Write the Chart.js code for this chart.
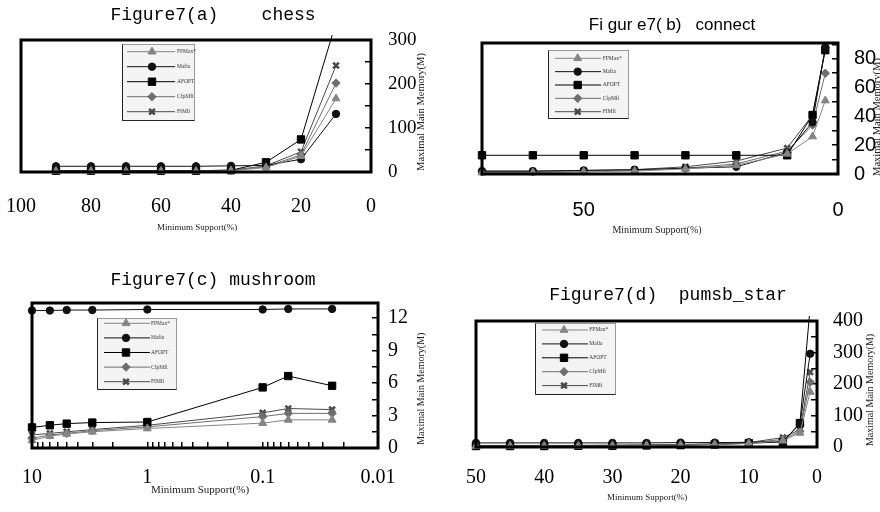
<!DOCTYPE html>
<html>
<head>
<meta charset="utf-8">
<script src="https://cdn.jsdelivr.net/npm/chart.js@4.4.1/dist/chart.umd.min.js"></script>
<style>
  html, body { margin: 0; padding: 0; background: #fff; }
  #wrap { position: relative; width: 880px; height: 512px; }
  #wrap canvas { position: absolute; }
</style>
</head>
<body>
<div id="wrap">
  <canvas id="chess" width="440" height="256" style="left:0;top:0"></canvas>
  <canvas id="connect" width="440" height="256" style="left:440px;top:0"></canvas>
  <canvas id="mushroom" width="440" height="256" style="left:0;top:256px"></canvas>
  <canvas id="pumsb" width="440" height="256" style="left:440px;top:256px"></canvas>
</div>
<script>
const seriesNames = ['FPMax*', 'Mafia', 'AFOPT', 'CfpMfi', 'FIMfi'];

// Figure7(a) chess
const chessSupport = [90, 80, 70, 60, 50, 40, 30, 20, 10];
const chessFPMax  = [2, 2, 2, 2, 2, 3, 10, 36, 167];
const chessMafia  = [13, 13, 13, 13, 13, 14, 15, 29, 132];
const chessAFOPT  = [3, 3, 3, 3, 3, 4, 22, 74, 340];
const chessCfpMfi = [3, 3, 3, 3, 3, 4, 12, 39, 202];
const chessFIMfi  = [3, 3, 3, 3, 3, 4, 14, 46, 242];
const chessXLabels = [100, 80, 60, 40, 20, 0];
const chessYLabels = [0, 100, 200, 300];

// Figure7(b) connect
const connectSupport = [70, 60, 50, 40, 30, 20, 10, 5, 2.5];
const connectFPMax  = [1, 1, 1.5, 2, 3.5, 6, 14, 26, 51];
const connectMafia  = [2, 2, 2.5, 3, 4, 5, 15, 36, 88];
const connectAFOPT  = [13, 13, 13, 13, 13, 13, 13, 41, 86];
const connectCfpMfi = [1.5, 1.5, 2, 2.5, 4, 7, 16, 34, 70];
const connectFIMfi  = [2, 2, 2.5, 3, 5, 9, 18, 41, 87];
const connectXLabels = [50, 0];
const connectYLabels = [0, 20, 40, 60, 80];

// Figure7(c) mushroom
const mushroomSupport = [10, 7, 5, 3, 1, 0.1, 0.06, 0.025];
const mushroomFPMax  = [0.7, 1.1, 1.3, 1.5, 1.8, 2.3, 2.6, 2.6];
const mushroomMafia  = [12.7, 12.7, 12.75, 12.75, 12.8, 12.8, 12.85, 12.85];
const mushroomAFOPT  = [1.9, 2.1, 2.25, 2.35, 2.4, 5.6, 6.65, 5.75];
const mushroomCfpMfi = [0.9, 1.2, 1.35, 1.6, 1.95, 2.9, 3.2, 3.2];
const mushroomFIMfi  = [1.2, 1.35, 1.5, 1.7, 2.1, 3.25, 3.65, 3.55];
const mushroomXLabels = [10, 1, 0.1, 0.01];
const mushroomYLabels = [0, 3, 6, 9, 12];

// Figure7(d) pumsb_star
const pumsbSupport = [50, 45, 40, 35, 30, 25, 20, 15, 10, 5, 2.5, 1];
const pumsbFPMax  = [3, 3, 3, 3, 4, 5, 6, 8, 11, 20, 45, 175];
const pumsbMafia  = [13, 13, 13, 13, 13, 13, 14, 14, 15, 18, 72, 296];
const pumsbAFOPT  = [3, 3, 3, 4, 4, 5, 6, 8, 12, 16, 76, 445];
const pumsbCfpMfi = [4, 4, 4, 5, 5, 6, 7, 9, 13, 24, 50, 206];
const pumsbFIMfi  = [5, 5, 5, 5, 6, 7, 8, 10, 14, 30, 55, 238];
const pumsbXLabels = [50, 40, 30, 20, 10, 0];
const pumsbYLabels = [0, 100, 200, 300, 400];

// look of each series (same order as seriesNames)
const seriesLook = [
  { color: '#858585', point: 'triangle', radius: 4.6, bw: 1 },
  { color: '#111111', point: 'circle', radius: 3.7, bw: 1 },
  { color: '#000000', point: 'rect', radius: 5.2, bw: 1 },
  { color: '#6e6e6e', point: 'rectRot', radius: 4.2, bw: 1 },
  { color: '#4a4a4a', point: 'crossRot', radius: 4, bw: 2.6 }
];

const SERIF = "'Liberation Serif', 'DejaVu Serif', serif";
const MONO = "'Liberation Mono', 'DejaVu Sans Mono', monospace";
const SANS = "'Liberation Sans', Arial, sans-serif";

function buildDatasets(support, seriesList) {
  return seriesList.map((vals, i) => {
    const s = seriesLook[i];
    return {
      label: seriesNames[i],
      data: support.map((x, j) => ({ x: x, y: vals[j] })),
      borderColor: s.color,
      backgroundColor: s.color,
      pointBackgroundColor: s.color,
      pointBorderColor: s.color,
      pointStyle: s.point,
      pointRadius: s.radius,
      pointBorderWidth: s.bw,
      borderWidth: 1,
      tension: 0,
      clip: 5
    };
  });
}

function labelIf(list) {
  return v => {
    const hit = list.find(l => Math.abs(l - v) < 1e-6 * (Math.abs(l) + 1e-9));
    return hit === undefined ? '' : String(hit);
  };
}

// frame, titles and the boxed legend inside the plot
function makeDecor(d) {
  return {
    id: 'decor',
    afterDraw(chart) {
      const ctx = chart.ctx, a = chart.chartArea;
      ctx.save();
      ctx.strokeStyle = '#000';
      ctx.lineWidth = 3;
      ctx.strokeRect(a.left, a.top, a.right - a.left, a.bottom - a.top);

      ctx.textAlign = 'center';
      ctx.textBaseline = 'middle';
      ctx.fillStyle = '#000';
      ctx.font = d.titleFont;
      ctx.fillText(d.title, d.titleX, d.titleY);

      ctx.fillStyle = '#222';
      ctx.font = d.xTitleFont;
      ctx.fillText('Minimum Support(%)', d.xTitleX, d.xTitleY);

      ctx.save();
      ctx.translate(d.yTitleX, d.yTitleY);
      ctx.rotate(-Math.PI / 2);
      ctx.font = d.yTitleFont;
      ctx.fillText('Maximal Main Memory(M)', 0, 0);
      ctx.restore();

      // legend box
      const L = d.legend;
      ctx.fillStyle = '#f4f4f4';
      ctx.fillRect(L.x, L.y, L.w, L.h);
      ctx.lineWidth = 1;
      ctx.strokeStyle = '#999';
      ctx.strokeRect(L.x + 0.5, L.y + 0.5, L.w, L.h);
      ctx.strokeStyle = '#222';
      ctx.beginPath();
      ctx.moveTo(L.x + 0.5, L.y + 0.5);
      ctx.lineTo(L.x + 0.5, L.y + L.h + 0.5);
      ctx.lineTo(L.x + L.w + 0.5, L.y + L.h + 0.5);
      ctx.stroke();

      ctx.textAlign = 'left';
      ctx.font = '5.5px ' + SERIF;
      chart.data.datasets.forEach((ds, i) => {
        const yy = L.row0 + i * L.dy;
        ctx.strokeStyle = ds.borderColor;
        ctx.lineWidth = 1;
        ctx.beginPath();
        ctx.moveTo(L.line0, yy);
        ctx.lineTo(L.line1, yy);
        ctx.stroke();
        ctx.fillStyle = ds.pointBackgroundColor;
        ctx.strokeStyle = ds.pointBorderColor;
        ctx.lineWidth = ds.pointBorderWidth;
        Chart.helpers.drawPoint(ctx, {
          pointStyle: ds.pointStyle, rotation: 0,
          radius: ds.pointRadius, borderWidth: ds.pointBorderWidth
        }, L.mark, yy);
        ctx.fillStyle = '#333';
        ctx.fillText(ds.label, L.text, yy);
      });
      ctx.restore();
    }
  };
}

function makePanel(id, cfg) {
  const W = 440, H = 256;
  const innerTicks = {
    display: true, drawOnChartArea: false, drawTicks: true,
    tickLength: -6, color: '#000', tickColor: '#000', lineWidth: 1.5, tickWidth: 1.5
  };
  const noTicks = { display: false, drawOnChartArea: false, drawTicks: false };
  const xScale = {
    type: cfg.xType || 'linear',
    position: 'bottom',
    min: cfg.xMin, max: cfg.xMax, reverse: true,
    grid: cfg.xInnerTicks ? innerTicks : noTicks,
    border: { display: false },
    ticks: {
      autoSkip: false, maxRotation: 0, color: '#000',
      font: { family: cfg.xFont, size: cfg.xSize },
      padding: cfg.xPad,
      callback: labelIf(cfg.xLabels)
    },
    afterFit: s => { s.height = H - cfg.area.bottom; s.paddingLeft = 0; s.paddingRight = 0; }
  };
  if (cfg.xStep) xScale.ticks.stepSize = cfg.xStep;
  if (cfg.xType === 'logarithmic') {
    // keep only the 1..9 x 10^n minor ticks
    xScale.afterBuildTicks = s => {
      s.ticks = s.ticks.filter(t => {
        const m = t.value / Math.pow(10, Math.floor(Math.log10(t.value) + 1e-9));
        return Math.abs(m - Math.round(m)) < 1e-6;
      });
    };
  }
  const yScale = {
    type: 'linear',
    position: 'right',
    min: 0, max: cfg.yMax,
    grid: innerTicks,
    border: { display: false },
    ticks: {
      autoSkip: false, color: '#000', stepSize: cfg.yStep, includeBounds: false,
      font: { family: cfg.yFont, size: cfg.ySize },
      padding: cfg.yPad,
      callback: labelIf(cfg.yLabels)
    },
    afterFit: s => { s.width = W - cfg.area.right; s.paddingTop = 0; s.paddingBottom = 0; }
  };

  return new Chart(document.getElementById(id), {
    type: 'line',
    data: { datasets: buildDatasets(cfg.support, cfg.series) },
    options: {
      responsive: false,
      animation: false,
      events: [],
      layout: { padding: { left: cfg.area.left, top: cfg.area.top, right: 0, bottom: 0 } },
      plugins: { legend: { display: false }, title: { display: false }, tooltip: { enabled: false } },
      scales: { x: xScale, y: yScale }
    },
    plugins: [makeDecor(cfg.decor)]
  });
}

makePanel('chess', {
  support: chessSupport,
  series: [chessFPMax, chessMafia, chessAFOPT, chessCfpMfi, chessFIMfi],
  area: { left: 21, top: 40, right: 371, bottom: 172 },
  xMin: 0, xMax: 100, xStep: 20, xLabels: chessXLabels, xFont: SERIF, xSize: 20, xPad: 23,
  yMax: 300, yStep: 50, yLabels: chessYLabels, yFont: SERIF, ySize: 19, yPad: 23,
  decor: {
    title: 'Figure7(a)    chess', titleFont: '18px ' + MONO, titleX: 213, titleY: 15,
    xTitleFont: '9px ' + SERIF, xTitleX: 197, xTitleY: 228,
    yTitleFont: '10.5px ' + SERIF, yTitleX: 421, yTitleY: 112,
    legend: { x: 122, y: 44, w: 72, h: 76, row0: 51.7, dy: 15, line0: 127, line1: 175, mark: 152, text: 177 }
  }
});

makePanel('connect', {
  support: connectSupport,
  series: [connectFPMax, connectMafia, connectAFOPT, connectCfpMfi, connectFIMfi],
  area: { left: 42, top: 43, right: 398, bottom: 174 },
  xMin: 0, xMax: 70, xStep: 10, xLabels: connectXLabels, xFont: SANS, xSize: 20, xPad: 24,
  yMax: 91, yStep: 10, yLabels: connectYLabels, yFont: SANS, ySize: 20, yPad: 22,
  decor: {
    title: 'Fi gur e7( b)   connect', titleFont: '17px ' + SANS, titleX: 232, titleY: 25,
    xTitleFont: '10px ' + SERIF, xTitleX: 217, xTitleY: 230,
    yTitleFont: '10.5px ' + SERIF, yTitleX: 437, yTitleY: 117,
    legend: { x: 108, y: 50, w: 80, h: 68, row0: 58.3, dy: 13.35, line0: 115, line1: 161, mark: 137.7, text: 162.7 }
  }
});

makePanel('mushroom', {
  support: mushroomSupport,
  series: [mushroomFPMax, mushroomMafia, mushroomAFOPT, mushroomCfpMfi, mushroomFIMfi],
  area: { left: 32, top: 47, right: 378, bottom: 192 },
  xType: 'logarithmic', xInnerTicks: true,
  xMin: 0.01, xMax: 10, xLabels: mushroomXLabels, xFont: SERIF, xSize: 20, xPad: 24,
  yMax: 13.4, yStep: 1.5, yLabels: mushroomYLabels, yFont: SERIF, ySize: 20, yPad: 16,
  decor: {
    title: 'Figure7(c) mushroom', titleFont: '18px ' + MONO, titleX: 213, titleY: 24.7,
    xTitleFont: '11px ' + SERIF, xTitleX: 200, xTitleY: 234,
    yTitleFont: '10px ' + SERIF, yTitleX: 421, yTitleY: 132.7,
    legend: { x: 97, y: 62, w: 79, h: 71, row0: 67.3, dy: 14.6, line0: 104, line1: 150, mark: 126, text: 151 }
  }
});

makePanel('pumsb', {
  support: pumsbSupport,
  series: [pumsbFPMax, pumsbMafia, pumsbAFOPT, pumsbCfpMfi, pumsbFIMfi],
  area: { left: 36, top: 65, right: 377, bottom: 191 },
  xMin: 0, xMax: 50, xStep: 10, xLabels: pumsbXLabels, xFont: SERIF, xSize: 20, xPad: 19,
  yMax: 400, yStep: 50, yLabels: pumsbYLabels, yFont: SERIF, ySize: 20, yPad: 22,
  decor: {
    title: 'Figure7(d)  pumsb_star', titleFont: '18px ' + MONO, titleX: 228, titleY: 39,
    xTitleFont: '9px ' + SERIF, xTitleX: 207, xTitleY: 242,
    yTitleFont: '10px ' + SERIF, yTitleX: 430, yTitleY: 134,
    legend: { x: 95, y: 67, w: 80, h: 71, row0: 74, dy: 13.9, line0: 102, line1: 148, mark: 124, text: 149.3 }
  }
});
</script>
</body>
</html>
